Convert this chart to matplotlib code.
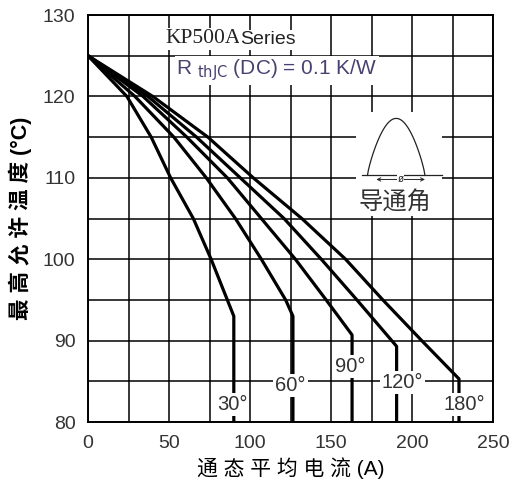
import matplotlib.pyplot as plt
import numpy as np
from matplotlib.patches import Rectangle

plt.rcParams['font.family'] = ['Liberation Sans', 'Noto Sans CJK SC', 'DejaVu Sans']

# curves: average on-state current (A) vs max case temperature (degC)
angles = ["30°", "60°", "90°", "120°", "180°"]
i_30 = [0, 24, 39, 51, 65, 76, 86, 90, 90]
t_30 = [125, 120, 115, 110, 105, 100, 95, 93, 80]
i_60 = [0, 29, 53, 73, 91, 107, 122, 126.5, 126.5]
t_60 = [125, 120, 115, 110, 105, 100, 95, 93, 80]
i_90 = [0, 34, 61, 86, 107, 128, 147, 163, 163]
t_90 = [125, 120, 115, 110, 105, 100, 95, 90.7, 80]
i_120 = [0, 37, 67, 94, 121, 144, 166, 190.5, 190.5]
t_120 = [125, 120, 115, 110, 105, 100, 95, 89.3, 80]
i_180 = [0, 40, 74, 102, 132, 159, 182, 206, 229, 229]
t_180 = [125, 120, 115, 110, 105, 100, 95, 90, 85.3, 80]

x_ticks = [0, 50, 100, 150, 200, 250]
y_ticks = [80, 90, 100, 110, 120, 130]

curves = [(i_30, t_30), (i_60, t_60), (i_90, t_90), (i_120, t_120), (i_180, t_180)]
label_pos = [(89, 82.1), (125, 84.5), (162, 86.8), (194, 84.8), (232, 82.1)]

GRIS = "#333333"
ROXO = "#4b4170"

fig = plt.figure(figsize=(5.12, 4.88), dpi=100)
ax = fig.add_axes([0.1719, 0.1352, 0.791, 0.834])
ax.set_xlim(0, 250)
ax.set_ylim(80, 130)

ax.set_xticks(x_ticks)
ax.set_yticks(y_ticks)
ax.set_xticks(np.arange(0, 251, 25), minor=True)
ax.set_yticks(np.arange(80, 131, 5), minor=True)
ax.grid(True, which="both", color="black", lw=1.1)
ax.set_axisbelow(True)
ax.tick_params(which="both", length=0)
ax.tick_params(axis="x", pad=9, labelsize=14, labelcolor=GRIS)
ax.tick_params(axis="y", pad=9, labelsize=14, labelcolor=GRIS)
for s in ax.spines.values():
    s.set_linewidth(1.4)

for (xs, ys), ang, (lx, ly) in zip(curves, angles, label_pos):
    ax.plot(xs, ys, color="black", lw=2.3, zorder=3, solid_joinstyle="round")
    ax.text(lx, ly, ang, ha="center", va="center", fontsize=14.5, color=GRIS, zorder=5,
            bbox=dict(facecolor="white", edgecolor="none", pad=1.5))

# título
t1 = ax.text(47.5, 125.9, "KP500A", family="Liberation Serif", fontsize=15.5, color="#222222",
             ha="left", va="bottom", zorder=5,
             bbox=dict(facecolor="white", edgecolor="none", pad=1))
ax.annotate("Series", xy=(1, 0), xycoords=t1, ha="left", va="bottom", fontsize=14,
            color="#222222", zorder=5, bbox=dict(facecolor="white", edgecolor="none", pad=1))
ax.text(54.5, 123.2, r"R $_{\mathrm{thJC}}$ (DC) = 0.1 K/W", fontsize=15, color=ROXO,
        ha="left", va="center", zorder=5,
        bbox=dict(facecolor="white", edgecolor="none", pad=1))

# ícone do ângulo de condução
ax.add_patch(Rectangle((165.4, 105.3), 53.1, 12.8, facecolor="white", edgecolor="none", zorder=4))
xs = np.linspace(172.5, 208, 60)
ax.plot(xs, 110.3 + 7.0 * np.sin(np.pi * (xs - 172.5) / 35.5) ** 0.8, color="#222222", lw=0.9, zorder=5)
ax.plot([168.9, 218.3], [110.3, 110.3], color="#222222", lw=0.9, zorder=5)
ax.annotate("", xy=(178, 109.8), xytext=(208, 109.8), zorder=5,
            arrowprops=dict(arrowstyle="<->", lw=0.7, color="#222222", shrinkA=0, shrinkB=0,
                            mutation_scale=6))
ax.text(193, 109.8, "ø", fontsize=7, ha="center", va="center", color="#222222", zorder=6,
        bbox=dict(facecolor="white", edgecolor="none", pad=0.3))
ax.text(189.5, 106.9, "导通角", family=["Noto Sans CJK SC", "DejaVu Sans"], fontsize=17.5,
        color=GRIS, ha="center", va="center", zorder=6)

ax.set_xlabel("通 态 平 均 电 流 (A)", fontsize=15, color="black", labelpad=4)
ax.set_ylabel("最 高 允 许 温 度 (°C)", fontsize=15.5, color="black", fontweight="bold", labelpad=8)

fig.savefig("out.png", dpi=100)
